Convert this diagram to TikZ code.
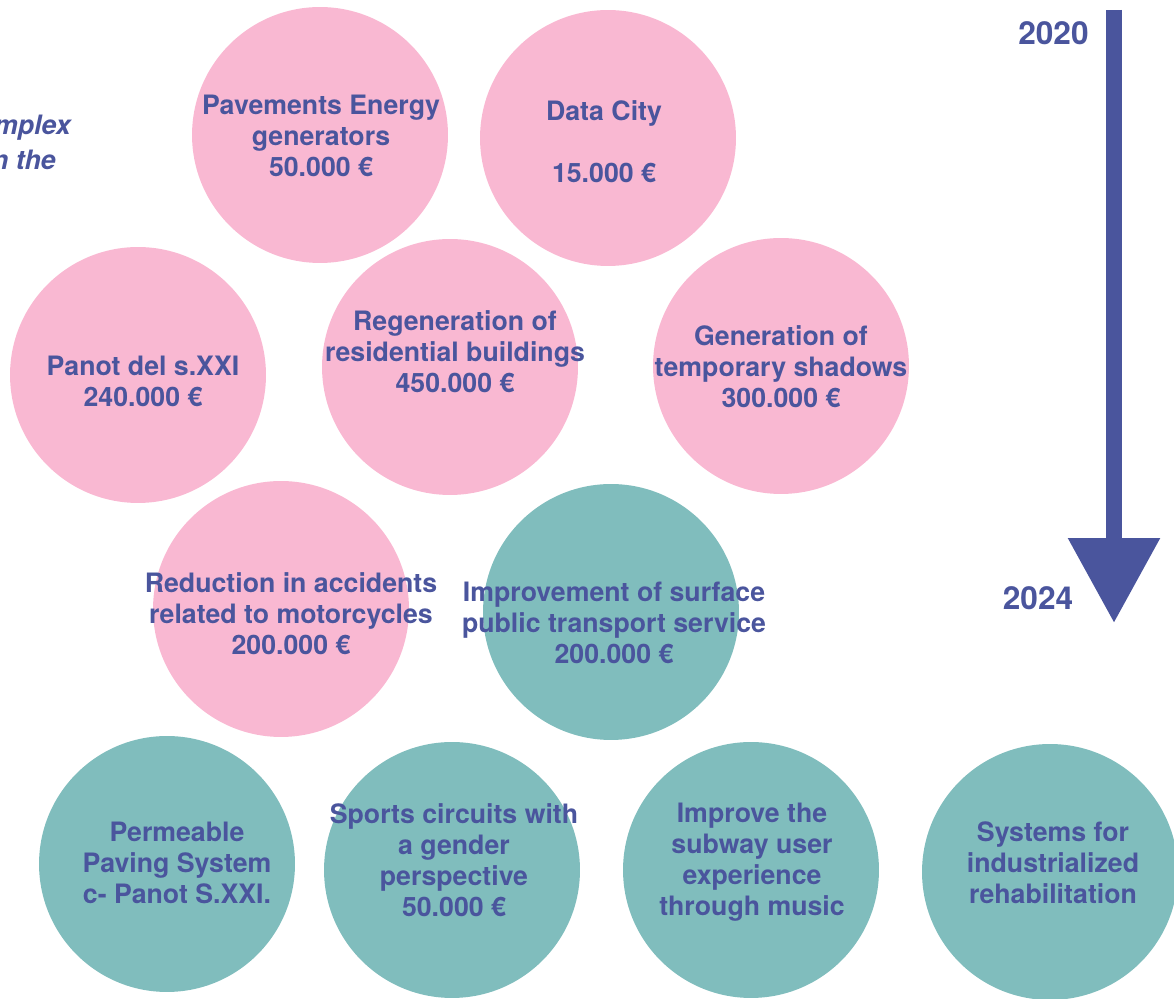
\documentclass[tikz,border=0pt]{standalone}
\usepackage{fontspec}
\setmainfont{TeX Gyre Heros}
\usetikzlibrary{calc,positioning,arrows.meta}
\definecolor{bubblepink}{HTML}{F9B8D2}
\definecolor{bubbleteal}{HTML}{80BDBD}
\definecolor{inkblue}{HTML}{4A559D}

\begin{document}
\begin{tikzpicture}[x=0.02cm,y=-0.02cm,
	bubble/.style={circle,minimum size=5.12cm,inner sep=0pt},
	pinkbubble/.style={bubble,fill=bubblepink},
	tealbubble/.style={bubble,fill=bubbleteal},
	caption/.style={align=center,text=inkblue,inner sep=0pt,font=\bfseries\fontsize{15.2}{17.6}\selectfont},
	year/.style={text=inkblue,inner sep=0pt,font=\bfseries\fontsize{18}{20}\selectfont}]
			\useasboundingbox (0,0) rectangle (1174,999);
			% bubbles
			\node[pinkbubble] (pave) at (320,135) {};
			\node[pinkbubble] (data) at (608,138) {};
			\node[pinkbubble] (panot) at (138,375) {};
			\node[pinkbubble] (regen) at (450,367) {};
			\node[pinkbubble] (shadow) at (781,366) {};
			\node[pinkbubble] (moto) at (281,609) {};
			\node[tealbubble] (transp) at (611,612) {};
			\node[tealbubble] (perm) at (167,864) {};
			\node[tealbubble] (sport) at (452,870) {};
			\node[tealbubble] (subway) at (751,870) {};
			\node[tealbubble] (rehab) at (1050,872) {};
			% texts
			\node[caption] (pave_t) at ($(pave)+(1,1)$) {Pavements Energy\\generators\\50.000 €};
			\node[caption] (data_t) at ($(data)+(-4,4)$) {Data City\\[17.6pt]15.000 €};
			\node[caption] (panot_t) at ($(panot)+(5,6)$) {Panot del s.XXI\\240.000 €};
			\node[caption] (regen_t) at ($(regen)+(5,-15)$) {Regeneration of\\residential buildings\\450.000 €};
			\node[caption] (shadow_t) at ($(shadow)+(0,1)$) {Generation of\\temporary shadows\\300.000 €};
			\node[caption] (moto_t) at ($(moto)+(10,5)$) {Reduction in accidents\\related to motorcycles\\200.000 €};
			\node[caption] (transp_t) at ($(transp)+(3,11)$) {Improvement of surface\\public transport service\\200.000 €};
			\node[caption] (perm_t) at ($(perm)+(10,-1)$) {Permeable\\Paving System\\c- Panot S.XXI.};
			\node[caption] (sport_t) at ($(sport)+(2,-10)$) {Sports circuits with\\a gender\\perspective\\50.000 €};
			\node[caption] (subway_t) at ($(subway)+(1,-8)$) {Improve the\\subway user\\experience\\through music};
			\node[caption] (rehab_t) at ($(rehab)+(3,-9)$) {Systems for\\industrialized\\rehabilitation};
			% cut text on the left
			\node[caption,anchor=east,font=\bfseries\itshape\fontsize{15.2}{17.6}\selectfont] (frag1) at (71,128) {mplex};
			\node[caption,anchor=east,font=\bfseries\itshape\fontsize{15.2}{17.6}\selectfont] (frag2) at (56,160) {n the};
			% time arrow
			\coordinate (t0) at (1114,10);
			\coordinate (t1) at (1114,623);
			\draw[inkblue,line width=0.32cm,-{Triangle[width=1.76cm,length=1.7cm]}] (t0) -- (t1);
			\node[year,anchor=east] (y20) at (1089,33) {2020};
			\node[year] (y24) at (1038,598) {2024};
		\end{tikzpicture}
\end{document}
